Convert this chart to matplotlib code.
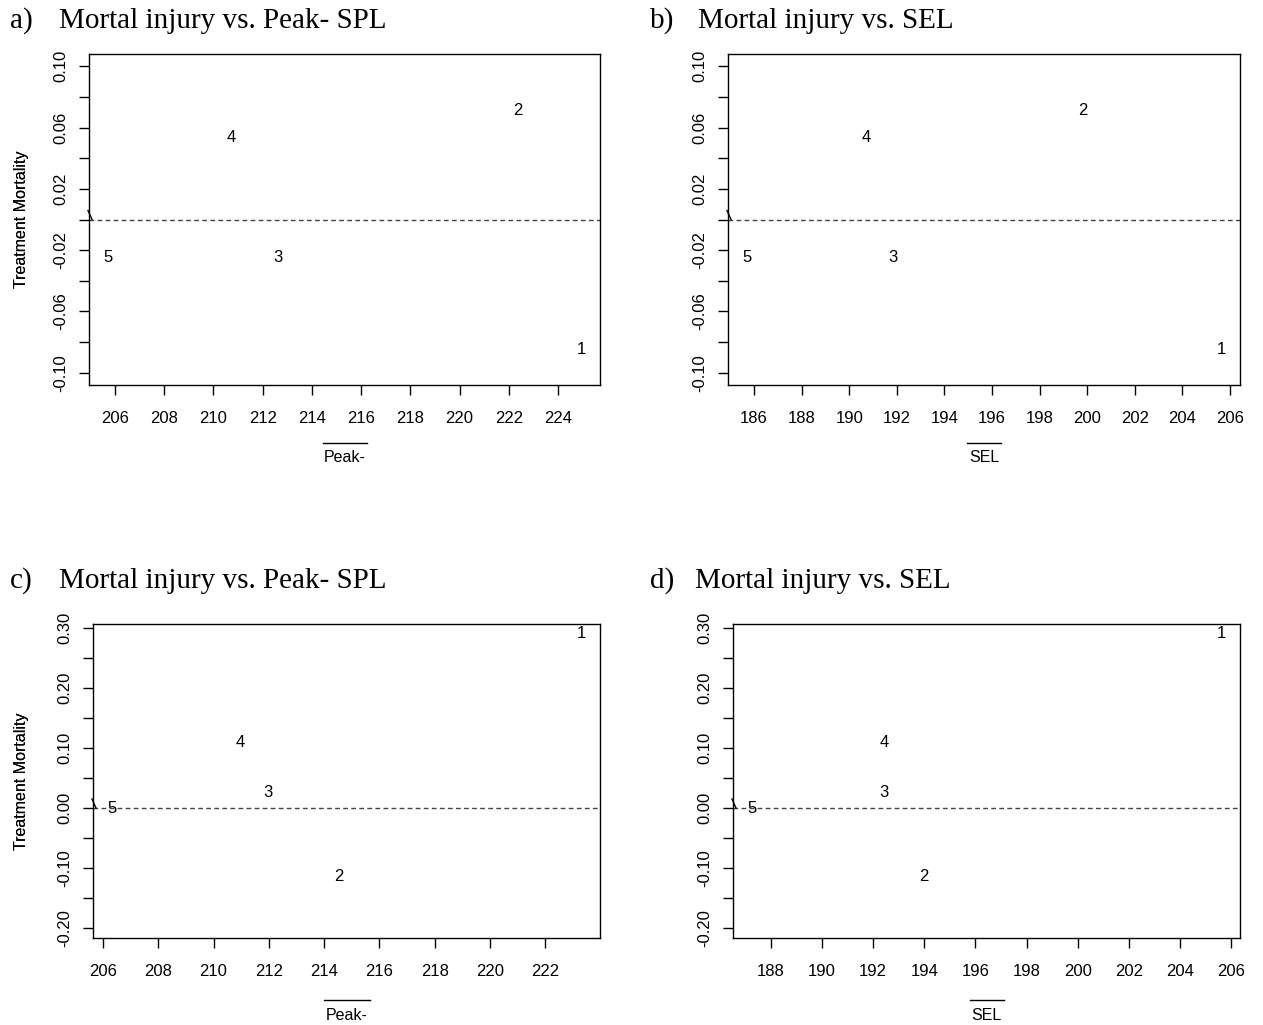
import matplotlib
matplotlib.use("Agg")
import matplotlib.pyplot as plt
from matplotlib.lines import Line2D

plt.rcParams['font.family'] = ['Liberation Sans', 'DejaVu Sans']

W, H = 1263, 1025

# site labels (plotted as text markers)
sites = ["1", "2", "3", "4", "5"]

# top row: a) peak SPL, b) SEL
peak_top = [224.94, 222.37, 212.61, 210.73, 205.71]
sel_top = [205.62, 199.80, 191.83, 190.73, 185.70]
mort_top = [-0.085, 0.071, -0.025, 0.0535, -0.025]

# bottom row: c) peak SPL, d) SEL
peak_bot = [223.30, 214.53, 211.96, 210.95, 206.32]
sel_bot = [205.60, 193.99, 192.42, 192.42, 187.26]
mort_bot = [0.291, -0.114, 0.026, 0.109, 0.0]

yticks_top = [-0.10, -0.08, -0.06, -0.04, -0.02, 0.00, 0.02, 0.04, 0.06, 0.08, 0.10]
yticks_bot = [-0.20, -0.15, -0.10, -0.05, 0.00, 0.05, 0.10, 0.15, 0.20, 0.25, 0.30]
xticks_a = list(range(206, 225, 2))
xticks_b = list(range(186, 207, 2))
xticks_c = list(range(206, 223, 2))
xticks_d = list(range(188, 207, 2))

fig = plt.figure(figsize=(W / 100, H / 100), dpi=100)


def fx(px):
    return px / W


def fy(py):
    return 1 - py / H


def panel(box, xs, ys, xticks, yticks, ylim, xlabel, bar_half, lab_off,
          tag, title, tag_x, title_x, title_y):
    l, r, t, b = box
    ax = fig.add_axes([fx(l), fy(b), fx(r - l), (b - t) / H])
    lo, hi = min(xs), max(xs)
    ext = (hi - lo) * 0.04
    ax.set_xlim(lo - ext, hi + ext)
    ax.set_ylim(*ylim)
    for s, x, y in zip(sites, xs, ys):
        ax.text(x, y, s, ha='center', va='center', fontsize=12)
    ax.axhline(0, color='#444444', lw=1, ls=(0, (3.4, 2.4)))
    ax.set_xticks(xticks)
    ax.set_xticklabels([str(v) for v in xticks], fontsize=12)
    ax.set_yticks(yticks)
    ax.set_yticklabels([f"{v:.2f}" if i % 2 == 0 else "" for i, v in enumerate(yticks)],
                       fontsize=12, rotation=90, va='center')
    ax.tick_params(direction='out', length=7, width=1)
    ax.tick_params(axis='x', pad=11.5)
    ax.tick_params(axis='y', pad=8)
    for sp in ax.spines.values():
        sp.set_linewidth(1)
    # axis break mark at zero on the left spine
    yb = H - ax.transData.transform((0, 0))[1]
    fig.add_artist(Line2D([fx(l - 1), fx(l + 3)], [fy(yb - 9), fy(yb)], color='black', lw=1))
    # axis titles
    cx = (l + r) / 2
    fig.text(fx(22), fy((t + b) / 2), "Treatment Mortality", rotation=90,
             ha='center', va='center', fontsize=11.5)
    fig.text(fx(cx), fy(b + lab_off), xlabel, ha='center', va='center', fontsize=11.5)
    fig.add_artist(Line2D([fx(cx - bar_half), fx(cx + bar_half)],
                          [fy(b + lab_off - 15), fy(b + lab_off - 15)], color='black', lw=1))
    fig.text(fx(tag_x), fy(title_y), tag, ha='left', va='baseline', fontsize=21,
             family='Liberation Serif')
    fig.text(fx(title_x), fy(title_y), title, ha='left', va='baseline', fontsize=21,
             family='Liberation Serif')
    return ax


panel((89, 600, 54, 385), peak_top, mort_top, xticks_a, yticks_top, (-0.108, 0.108),
      "Peak-", 22, 73, "a)", "Mortal injury vs. Peak- SPL", 10, 59, 28)
panel((728, 1240, 54, 385), sel_top, mort_top, xticks_b, yticks_top, (-0.108, 0.108),
      "SEL", 17, 73, "b)", "Mortal injury vs. SEL", 650, 698, 28)
panel((93, 600, 624, 938), peak_bot, mort_bot, xticks_c, yticks_bot, (-0.216, 0.306),
      "Peak-", 23, 77, "c)", "Mortal injury vs. Peak- SPL", 10, 59, 588)
panel((733, 1240, 624, 938), sel_bot, mort_bot, xticks_d, yticks_bot, (-0.216, 0.306),
      "SEL", 17, 77, "d)", "Mortal injury vs. SEL", 650, 695, 588)

fig.savefig("out.png", dpi=100)
